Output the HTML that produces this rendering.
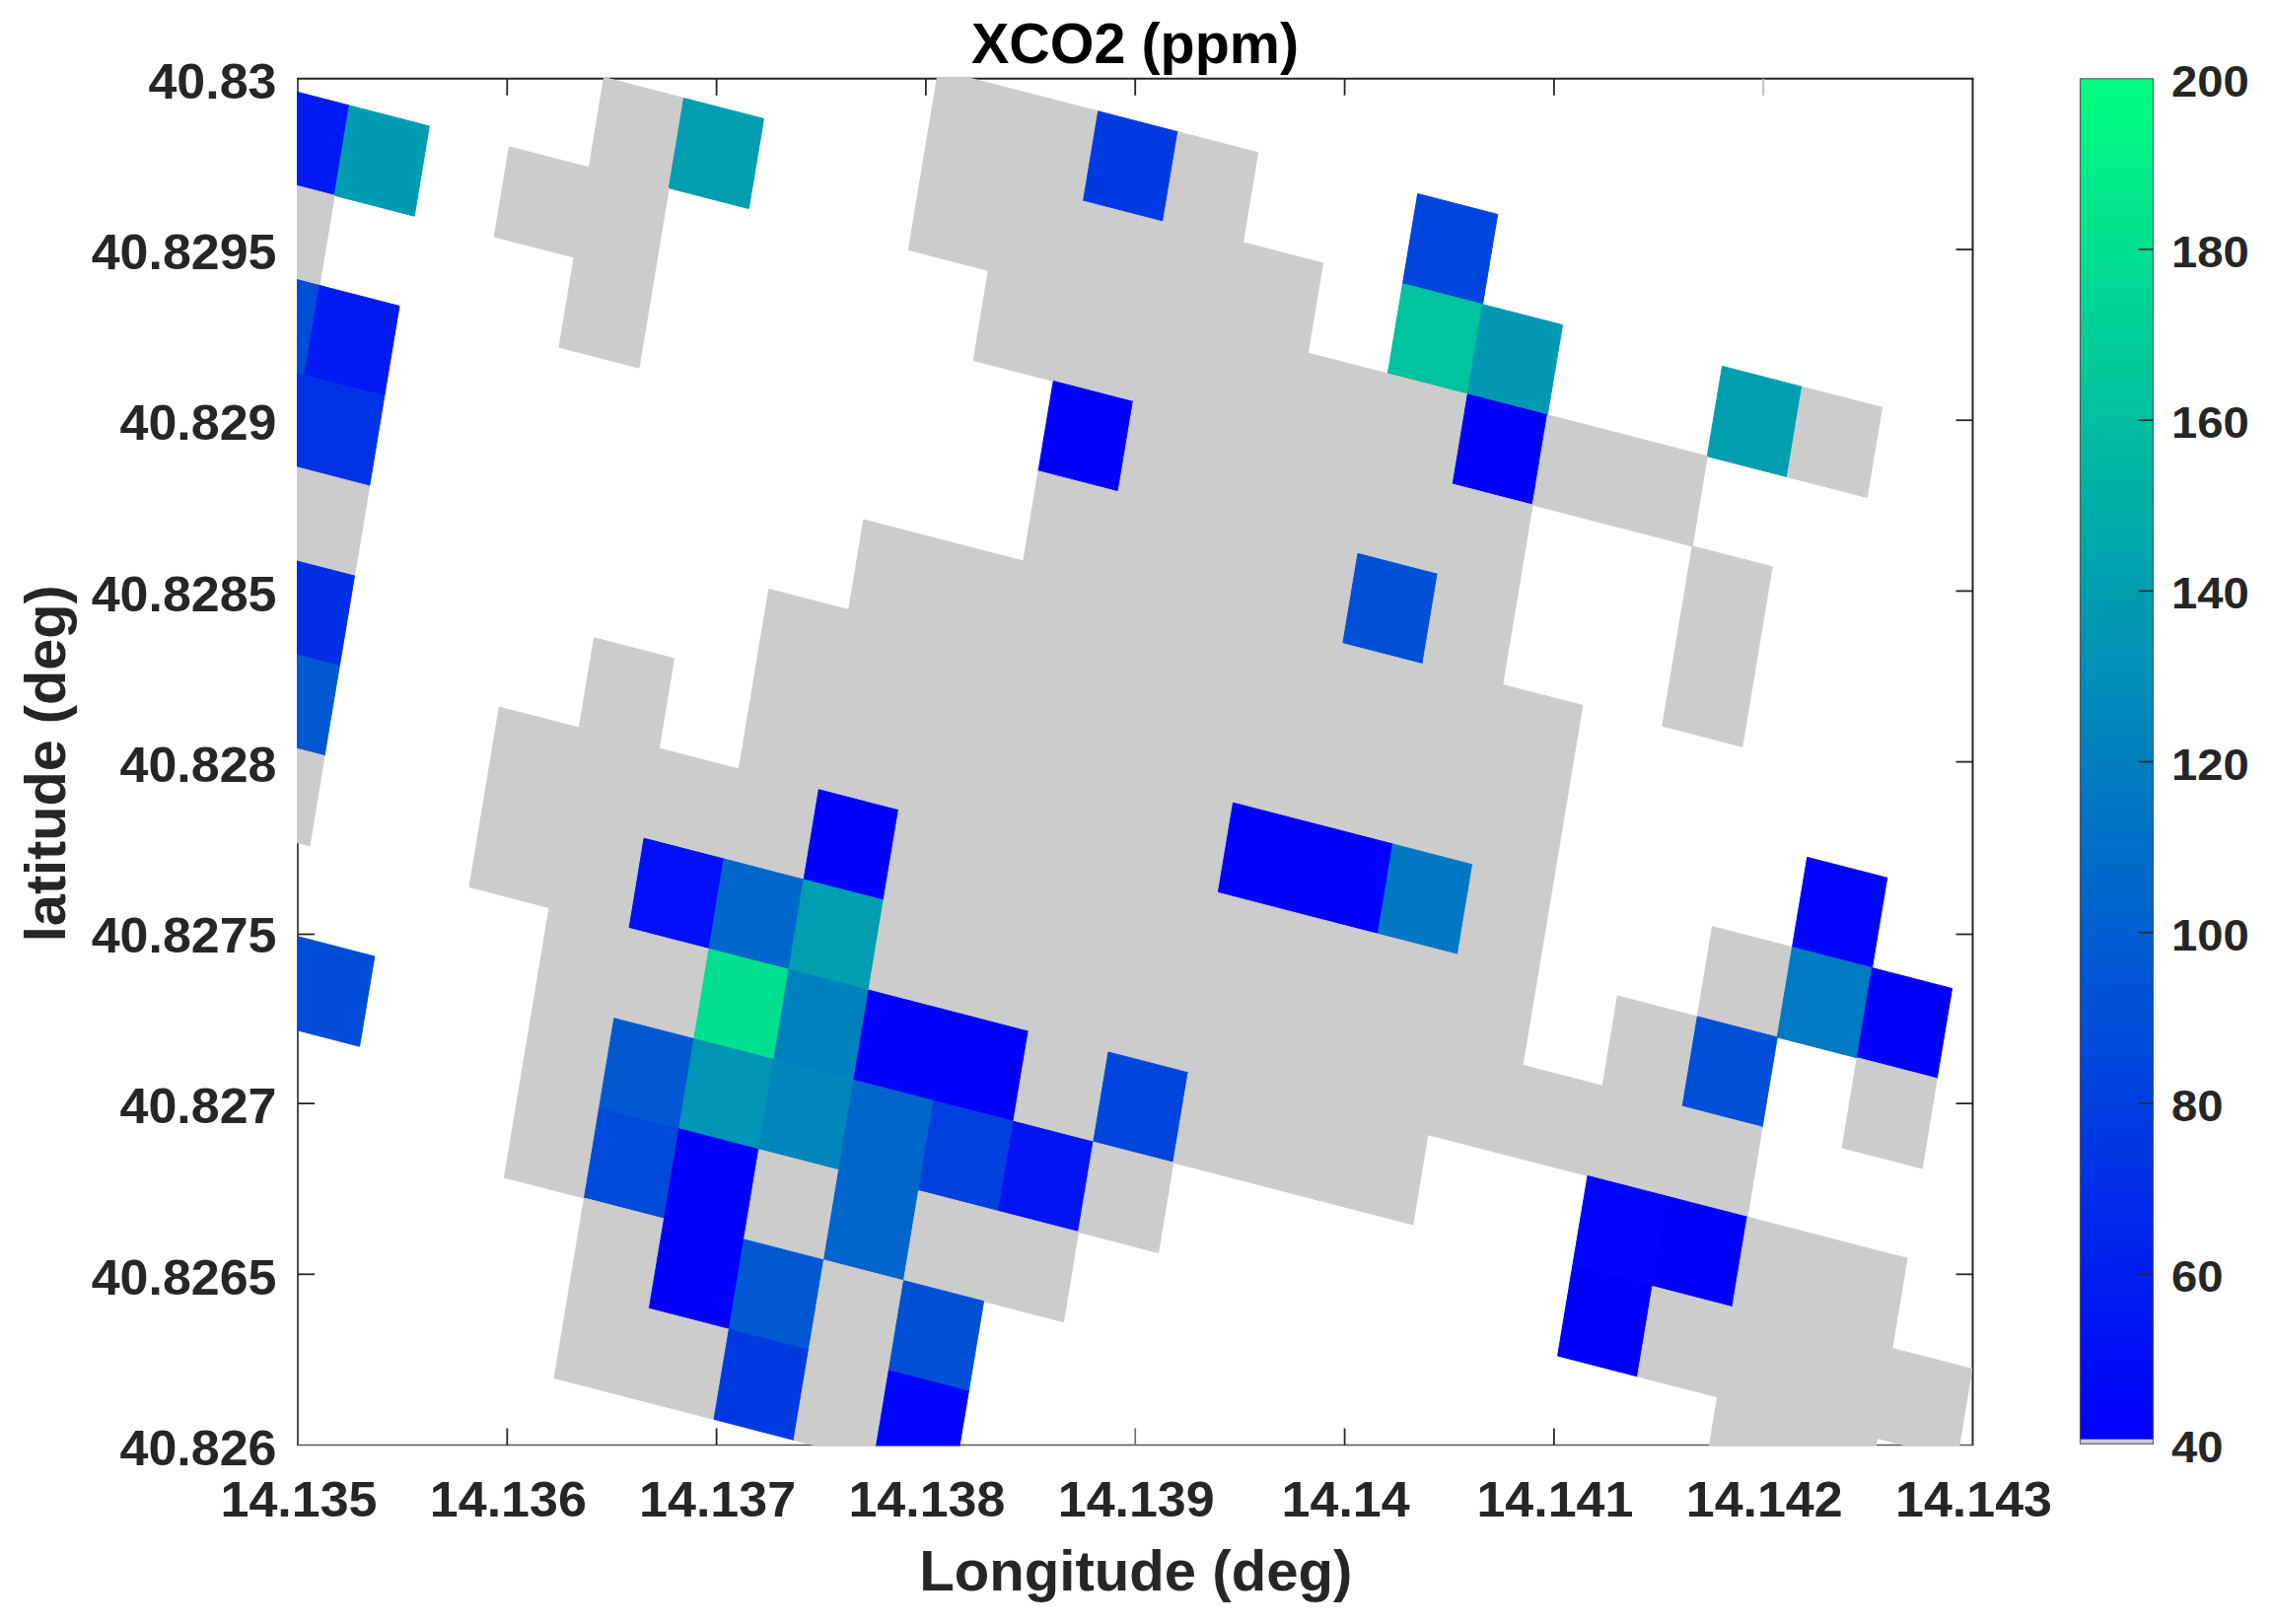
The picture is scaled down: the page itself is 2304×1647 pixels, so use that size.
<!DOCTYPE html>
<html><head><meta charset="utf-8"><title>XCO2 (ppm)</title>
<style>html,body{margin:0;padding:0;background:#fff;overflow:hidden}svg{display:block}text{font-family:"Liberation Sans",sans-serif;font-weight:bold;fill:#262626}</style></head><body>
<svg width="2304" height="1647" viewBox="0 0 2304 1647">
<rect width="2304" height="1647" fill="#fff"/>
<defs><clipPath id="c"><rect x="301" y="78.8" width="1700.5" height="1387.7"/></clipPath>
<linearGradient id="w" x1="0" y1="1" x2="0" y2="0"><stop offset="0" stop-color="#0000ff"/><stop offset="1" stop-color="#00ff80"/></linearGradient></defs>
<g stroke="#262626" stroke-width="1.8" fill="none">
<path d="M301 79.8H2001.5" stroke-width="2"/>
<path d="M2000.5 79.8V1465.5" stroke-width="2"/>
<path d="M301 1465.5H2001.5" stroke="#555" stroke-width="1.7"/>
<path d="M302 79.8V1465.5" stroke-width="1.6"/>
<path d="M514.3 1465.5v-17"/>
<path d="M514.3 79.8v17"/>
<path d="M302.0 253.0h17"/>
<path d="M2000.5 253.0h-17"/>
<path d="M726.6 1465.5v-17"/>
<path d="M726.6 79.8v17"/>
<path d="M302.0 426.2h17"/>
<path d="M2000.5 426.2h-17"/>
<path d="M938.9 1465.5v-17"/>
<path d="M938.9 79.8v17"/>
<path d="M302.0 599.4h17"/>
<path d="M2000.5 599.4h-17"/>
<path d="M1151.2 1465.5v-17" stroke="#777"/>
<path d="M1151.2 79.8v17"/>
<path d="M302.0 772.6h17"/>
<path d="M2000.5 772.6h-17"/>
<path d="M1363.6 1465.5v-17"/>
<path d="M1363.6 79.8v17"/>
<path d="M302.0 947.5h17"/>
<path d="M2000.5 947.5h-17"/>
<path d="M1575.9 1465.5v-17"/>
<path d="M1575.9 79.8v17"/>
<path d="M302.0 1119.1h17"/>
<path d="M2000.5 1119.1h-17"/>
<path d="M1788.2 1465.5v-17"/>
<path d="M1788.2 79.8v17" stroke="#bdbdbd"/>
<path d="M302.0 1292.3h17"/>
<path d="M2000.5 1292.3h-17"/>
</g>
<g clip-path="url(#c)">
<polygon points="951.7,71.0 1032.7,91.9 1017.5,183.1 936.5,162.2" fill="#cccccc" stroke="#cccccc" stroke-width="1"/>
<polygon points="1032.7,91.9 1113.7,112.8 1098.5,204.1 1017.5,183.1" fill="#cccccc" stroke="#cccccc" stroke-width="1"/>
<polygon points="1113.7,112.8 1194.7,133.8 1179.5,225.0 1098.5,204.1" fill="#003be2" stroke="#003be2" stroke-width="1"/>
<polygon points="1194.7,133.8 1275.7,154.7 1260.5,245.9 1179.5,225.0" fill="#cccccc" stroke="#cccccc" stroke-width="1"/>
<polygon points="1437.7,196.5 1518.7,217.4 1503.5,308.7 1422.5,287.7" fill="#0045dd" stroke="#0045dd" stroke-width="1"/>
<polygon points="612.5,78.5 693.5,99.5 678.3,190.7 597.3,169.8" fill="#cccccc" stroke="#cccccc" stroke-width="1"/>
<polygon points="693.5,99.5 774.5,120.4 759.3,211.6 678.3,190.7" fill="#009eb0" stroke="#009eb0" stroke-width="1"/>
<polygon points="936.5,162.2 1017.5,183.1 1002.3,274.4 921.3,253.4" fill="#cccccc" stroke="#cccccc" stroke-width="1"/>
<polygon points="1017.5,183.1 1098.5,204.1 1083.3,295.3 1002.3,274.4" fill="#cccccc" stroke="#cccccc" stroke-width="1"/>
<polygon points="1098.5,204.1 1179.5,225.0 1164.3,316.2 1083.3,295.3" fill="#cccccc" stroke="#cccccc" stroke-width="1"/>
<polygon points="1179.5,225.0 1260.5,245.9 1245.3,337.1 1164.3,316.2" fill="#cccccc" stroke="#cccccc" stroke-width="1"/>
<polygon points="1260.5,245.9 1341.5,266.8 1326.3,358.1 1245.3,337.1" fill="#cccccc" stroke="#cccccc" stroke-width="1"/>
<polygon points="1422.5,287.7 1503.5,308.7 1488.3,399.9 1407.3,379.0" fill="#00c29e" stroke="#00c29e" stroke-width="1"/>
<polygon points="1503.5,308.7 1584.5,329.6 1569.3,420.8 1488.3,399.9" fill="#0099b2" stroke="#0099b2" stroke-width="1"/>
<polygon points="1746.5,371.4 1827.5,392.3 1812.3,483.6 1731.3,462.7" fill="#009eb0" stroke="#009eb0" stroke-width="1"/>
<polygon points="1827.5,392.3 1908.5,413.3 1893.3,504.5 1812.3,483.6" fill="#cccccc" stroke="#cccccc" stroke-width="1"/>
<polygon points="273.3,86.1 354.3,107.0 339.2,198.2 258.2,177.3" fill="#001af2" stroke="#001af2" stroke-width="1"/>
<polygon points="354.3,107.0 435.3,127.9 420.2,219.2 339.2,198.2" fill="#009cb1" stroke="#009cb1" stroke-width="1"/>
<polygon points="516.3,148.9 597.3,169.8 582.2,261.0 501.2,240.1" fill="#cccccc" stroke="#cccccc" stroke-width="1"/>
<polygon points="597.3,169.8 678.3,190.7 663.2,281.9 582.2,261.0" fill="#cccccc" stroke="#cccccc" stroke-width="1"/>
<polygon points="1002.3,274.4 1083.3,295.3 1068.2,386.5 987.2,365.6" fill="#cccccc" stroke="#cccccc" stroke-width="1"/>
<polygon points="1083.3,295.3 1164.3,316.2 1149.2,407.4 1068.2,386.5" fill="#cccccc" stroke="#cccccc" stroke-width="1"/>
<polygon points="1164.3,316.2 1245.3,337.1 1230.2,428.4 1149.2,407.4" fill="#cccccc" stroke="#cccccc" stroke-width="1"/>
<polygon points="1245.3,337.1 1326.3,358.1 1311.2,449.3 1230.2,428.4" fill="#cccccc" stroke="#cccccc" stroke-width="1"/>
<polygon points="1326.3,358.1 1407.3,379.0 1392.2,470.2 1311.2,449.3" fill="#cccccc" stroke="#cccccc" stroke-width="1"/>
<polygon points="1407.3,379.0 1488.3,399.9 1473.2,491.1 1392.2,470.2" fill="#cccccc" stroke="#cccccc" stroke-width="1"/>
<polygon points="1488.3,399.9 1569.3,420.8 1554.2,512.0 1473.2,491.1" fill="#0000ff" stroke="#0000ff" stroke-width="1"/>
<polygon points="1569.3,420.8 1650.3,441.7 1635.2,533.0 1554.2,512.0" fill="#cccccc" stroke="#cccccc" stroke-width="1"/>
<polygon points="1650.3,441.7 1731.3,462.7 1716.2,553.9 1635.2,533.0" fill="#cccccc" stroke="#cccccc" stroke-width="1"/>
<polygon points="258.2,177.3 339.2,198.2 324.0,289.5 243.0,268.6" fill="#cccccc" stroke="#cccccc" stroke-width="1"/>
<polygon points="582.2,261.0 663.2,281.9 648.0,373.1 567.0,352.2" fill="#cccccc" stroke="#cccccc" stroke-width="1"/>
<polygon points="1068.2,386.5 1149.2,407.4 1134.0,498.7 1053.0,477.8" fill="#0000ff" stroke="#0000ff" stroke-width="1"/>
<polygon points="1149.2,407.4 1230.2,428.4 1215.0,519.6 1134.0,498.7" fill="#cccccc" stroke="#cccccc" stroke-width="1"/>
<polygon points="1230.2,428.4 1311.2,449.3 1296.0,540.5 1215.0,519.6" fill="#cccccc" stroke="#cccccc" stroke-width="1"/>
<polygon points="1311.2,449.3 1392.2,470.2 1377.0,561.4 1296.0,540.5" fill="#cccccc" stroke="#cccccc" stroke-width="1"/>
<polygon points="1392.2,470.2 1473.2,491.1 1458.0,582.4 1377.0,561.4" fill="#cccccc" stroke="#cccccc" stroke-width="1"/>
<polygon points="1473.2,491.1 1554.2,512.0 1539.0,603.3 1458.0,582.4" fill="#cccccc" stroke="#cccccc" stroke-width="1"/>
<polygon points="1716.2,553.9 1797.2,574.8 1782.0,666.0 1701.0,645.1" fill="#cccccc" stroke="#cccccc" stroke-width="1"/>
<polygon points="243.0,268.6 324.0,289.5 308.8,380.7 227.8,359.8" fill="#004cd9" stroke="#004cd9" stroke-width="1"/>
<polygon points="324.0,289.5 405.0,310.4 389.8,401.6 308.8,380.7" fill="#001af2" stroke="#001af2" stroke-width="1"/>
<polygon points="1053.0,477.8 1134.0,498.7 1118.8,589.9 1037.8,569.0" fill="#cccccc" stroke="#cccccc" stroke-width="1"/>
<polygon points="1134.0,498.7 1215.0,519.6 1199.8,610.8 1118.8,589.9" fill="#cccccc" stroke="#cccccc" stroke-width="1"/>
<polygon points="1215.0,519.6 1296.0,540.5 1280.8,631.7 1199.8,610.8" fill="#cccccc" stroke="#cccccc" stroke-width="1"/>
<polygon points="1296.0,540.5 1377.0,561.4 1361.8,652.7 1280.8,631.7" fill="#cccccc" stroke="#cccccc" stroke-width="1"/>
<polygon points="1377.0,561.4 1458.0,582.4 1442.8,673.6 1361.8,652.7" fill="#004fd7" stroke="#004fd7" stroke-width="1"/>
<polygon points="1458.0,582.4 1539.0,603.3 1523.8,694.5 1442.8,673.6" fill="#cccccc" stroke="#cccccc" stroke-width="1"/>
<polygon points="1701.0,645.1 1782.0,666.0 1766.8,757.3 1685.8,736.3" fill="#cccccc" stroke="#cccccc" stroke-width="1"/>
<polygon points="227.8,359.8 308.8,380.7 293.7,471.9 212.7,451.0" fill="#0033e6" stroke="#0033e6" stroke-width="1"/>
<polygon points="308.8,380.7 389.8,401.6 374.7,492.9 293.7,471.9" fill="#0033e6" stroke="#0033e6" stroke-width="1"/>
<polygon points="875.8,527.1 956.8,548.1 941.7,639.3 860.7,618.4" fill="#cccccc" stroke="#cccccc" stroke-width="1"/>
<polygon points="956.8,548.1 1037.8,569.0 1022.7,660.2 941.7,639.3" fill="#cccccc" stroke="#cccccc" stroke-width="1"/>
<polygon points="1037.8,569.0 1118.8,589.9 1103.7,681.1 1022.7,660.2" fill="#cccccc" stroke="#cccccc" stroke-width="1"/>
<polygon points="1118.8,589.9 1199.8,610.8 1184.7,702.0 1103.7,681.1" fill="#cccccc" stroke="#cccccc" stroke-width="1"/>
<polygon points="1199.8,610.8 1280.8,631.7 1265.7,723.0 1184.7,702.0" fill="#cccccc" stroke="#cccccc" stroke-width="1"/>
<polygon points="1280.8,631.7 1361.8,652.7 1346.7,743.9 1265.7,723.0" fill="#cccccc" stroke="#cccccc" stroke-width="1"/>
<polygon points="1361.8,652.7 1442.8,673.6 1427.7,764.8 1346.7,743.9" fill="#cccccc" stroke="#cccccc" stroke-width="1"/>
<polygon points="1442.8,673.6 1523.8,694.5 1508.7,785.7 1427.7,764.8" fill="#cccccc" stroke="#cccccc" stroke-width="1"/>
<polygon points="1523.8,694.5 1604.8,715.4 1589.7,806.7 1508.7,785.7" fill="#cccccc" stroke="#cccccc" stroke-width="1"/>
<polygon points="293.7,471.9 374.7,492.9 359.5,584.1 278.5,563.2" fill="#cccccc" stroke="#cccccc" stroke-width="1"/>
<polygon points="779.7,597.5 860.7,618.4 845.5,709.6 764.5,688.7" fill="#cccccc" stroke="#cccccc" stroke-width="1"/>
<polygon points="860.7,618.4 941.7,639.3 926.5,730.5 845.5,709.6" fill="#cccccc" stroke="#cccccc" stroke-width="1"/>
<polygon points="941.7,639.3 1022.7,660.2 1007.5,751.4 926.5,730.5" fill="#cccccc" stroke="#cccccc" stroke-width="1"/>
<polygon points="1022.7,660.2 1103.7,681.1 1088.5,772.4 1007.5,751.4" fill="#cccccc" stroke="#cccccc" stroke-width="1"/>
<polygon points="1103.7,681.1 1184.7,702.0 1169.5,793.3 1088.5,772.4" fill="#cccccc" stroke="#cccccc" stroke-width="1"/>
<polygon points="1184.7,702.0 1265.7,723.0 1250.5,814.2 1169.5,793.3" fill="#cccccc" stroke="#cccccc" stroke-width="1"/>
<polygon points="1265.7,723.0 1346.7,743.9 1331.5,835.1 1250.5,814.2" fill="#cccccc" stroke="#cccccc" stroke-width="1"/>
<polygon points="1346.7,743.9 1427.7,764.8 1412.5,856.0 1331.5,835.1" fill="#cccccc" stroke="#cccccc" stroke-width="1"/>
<polygon points="1427.7,764.8 1508.7,785.7 1493.5,877.0 1412.5,856.0" fill="#cccccc" stroke="#cccccc" stroke-width="1"/>
<polygon points="1508.7,785.7 1589.7,806.7 1574.5,897.9 1493.5,877.0" fill="#cccccc" stroke="#cccccc" stroke-width="1"/>
<polygon points="1832.7,869.4 1913.7,890.3 1898.5,981.6 1817.5,960.6" fill="#0005fc" stroke="#0005fc" stroke-width="1"/>
<polygon points="278.5,563.2 359.5,584.1 344.3,675.3 263.3,654.4" fill="#002ee8" stroke="#002ee8" stroke-width="1"/>
<polygon points="602.5,646.8 683.5,667.8 668.3,759.0 587.3,738.1" fill="#cccccc" stroke="#cccccc" stroke-width="1"/>
<polygon points="764.5,688.7 845.5,709.6 830.3,800.8 749.3,779.9" fill="#cccccc" stroke="#cccccc" stroke-width="1"/>
<polygon points="845.5,709.6 926.5,730.5 911.3,821.8 830.3,800.8" fill="#cccccc" stroke="#cccccc" stroke-width="1"/>
<polygon points="926.5,730.5 1007.5,751.4 992.3,842.7 911.3,821.8" fill="#cccccc" stroke="#cccccc" stroke-width="1"/>
<polygon points="1007.5,751.4 1088.5,772.4 1073.3,863.6 992.3,842.7" fill="#cccccc" stroke="#cccccc" stroke-width="1"/>
<polygon points="1088.5,772.4 1169.5,793.3 1154.3,884.5 1073.3,863.6" fill="#cccccc" stroke="#cccccc" stroke-width="1"/>
<polygon points="1169.5,793.3 1250.5,814.2 1235.3,905.4 1154.3,884.5" fill="#cccccc" stroke="#cccccc" stroke-width="1"/>
<polygon points="1250.5,814.2 1331.5,835.1 1316.3,926.4 1235.3,905.4" fill="#0000ff" stroke="#0000ff" stroke-width="1"/>
<polygon points="1331.5,835.1 1412.5,856.0 1397.3,947.3 1316.3,926.4" fill="#0000ff" stroke="#0000ff" stroke-width="1"/>
<polygon points="1412.5,856.0 1493.5,877.0 1478.3,968.2 1397.3,947.3" fill="#0078c3" stroke="#0078c3" stroke-width="1"/>
<polygon points="1493.5,877.0 1574.5,897.9 1559.3,989.1 1478.3,968.2" fill="#cccccc" stroke="#cccccc" stroke-width="1"/>
<polygon points="1736.5,939.7 1817.5,960.6 1802.3,1051.9 1721.3,1031.0" fill="#cccccc" stroke="#cccccc" stroke-width="1"/>
<polygon points="1817.5,960.6 1898.5,981.6 1883.3,1072.8 1802.3,1051.9" fill="#007ac2" stroke="#007ac2" stroke-width="1"/>
<polygon points="1898.5,981.6 1979.5,1002.5 1964.3,1093.7 1883.3,1072.8" fill="#0000ff" stroke="#0000ff" stroke-width="1"/>
<polygon points="263.3,654.4 344.3,675.3 329.1,766.5 248.1,745.6" fill="#0059d2" stroke="#0059d2" stroke-width="1"/>
<polygon points="506.3,717.1 587.3,738.1 572.1,829.3 491.1,808.4" fill="#cccccc" stroke="#cccccc" stroke-width="1"/>
<polygon points="587.3,738.1 668.3,759.0 653.1,850.2 572.1,829.3" fill="#cccccc" stroke="#cccccc" stroke-width="1"/>
<polygon points="668.3,759.0 749.3,779.9 734.1,871.1 653.1,850.2" fill="#cccccc" stroke="#cccccc" stroke-width="1"/>
<polygon points="749.3,779.9 830.3,800.8 815.1,892.1 734.1,871.1" fill="#cccccc" stroke="#cccccc" stroke-width="1"/>
<polygon points="830.3,800.8 911.3,821.8 896.1,913.0 815.1,892.1" fill="#0000ff" stroke="#0000ff" stroke-width="1"/>
<polygon points="911.3,821.8 992.3,842.7 977.1,933.9 896.1,913.0" fill="#cccccc" stroke="#cccccc" stroke-width="1"/>
<polygon points="992.3,842.7 1073.3,863.6 1058.1,954.8 977.1,933.9" fill="#cccccc" stroke="#cccccc" stroke-width="1"/>
<polygon points="1073.3,863.6 1154.3,884.5 1139.1,975.7 1058.1,954.8" fill="#cccccc" stroke="#cccccc" stroke-width="1"/>
<polygon points="1154.3,884.5 1235.3,905.4 1220.1,996.7 1139.1,975.7" fill="#cccccc" stroke="#cccccc" stroke-width="1"/>
<polygon points="1235.3,905.4 1316.3,926.4 1301.1,1017.6 1220.1,996.7" fill="#cccccc" stroke="#cccccc" stroke-width="1"/>
<polygon points="1316.3,926.4 1397.3,947.3 1382.1,1038.5 1301.1,1017.6" fill="#cccccc" stroke="#cccccc" stroke-width="1"/>
<polygon points="1397.3,947.3 1478.3,968.2 1463.1,1059.4 1382.1,1038.5" fill="#cccccc" stroke="#cccccc" stroke-width="1"/>
<polygon points="1478.3,968.2 1559.3,989.1 1544.1,1080.3 1463.1,1059.4" fill="#cccccc" stroke="#cccccc" stroke-width="1"/>
<polygon points="1640.3,1010.0 1721.3,1031.0 1706.1,1122.2 1625.1,1101.3" fill="#cccccc" stroke="#cccccc" stroke-width="1"/>
<polygon points="1721.3,1031.0 1802.3,1051.9 1787.1,1143.1 1706.1,1122.2" fill="#004fd7" stroke="#004fd7" stroke-width="1"/>
<polygon points="1883.3,1072.8 1964.3,1093.7 1949.2,1184.9 1868.1,1164.0" fill="#cccccc" stroke="#cccccc" stroke-width="1"/>
<polygon points="248.1,745.6 329.1,766.5 314.0,857.8 233.0,836.9" fill="#cccccc" stroke="#cccccc" stroke-width="1"/>
<polygon points="491.1,808.4 572.1,829.3 557.0,920.5 476.0,899.6" fill="#cccccc" stroke="#cccccc" stroke-width="1"/>
<polygon points="572.1,829.3 653.1,850.2 638.0,941.5 557.0,920.5" fill="#cccccc" stroke="#cccccc" stroke-width="1"/>
<polygon points="653.1,850.2 734.1,871.1 719.0,962.4 638.0,941.5" fill="#000ff7" stroke="#000ff7" stroke-width="1"/>
<polygon points="734.1,871.1 815.1,892.1 800.0,983.3 719.0,962.4" fill="#0066cc" stroke="#0066cc" stroke-width="1"/>
<polygon points="815.1,892.1 896.1,913.0 881.0,1004.2 800.0,983.3" fill="#009eb0" stroke="#009eb0" stroke-width="1"/>
<polygon points="896.1,913.0 977.1,933.9 962.0,1025.1 881.0,1004.2" fill="#cccccc" stroke="#cccccc" stroke-width="1"/>
<polygon points="977.1,933.9 1058.1,954.8 1043.0,1046.1 962.0,1025.1" fill="#cccccc" stroke="#cccccc" stroke-width="1"/>
<polygon points="1058.1,954.8 1139.1,975.7 1124.0,1067.0 1043.0,1046.1" fill="#cccccc" stroke="#cccccc" stroke-width="1"/>
<polygon points="1139.1,975.7 1220.1,996.7 1205.0,1087.9 1124.0,1067.0" fill="#cccccc" stroke="#cccccc" stroke-width="1"/>
<polygon points="1220.1,996.7 1301.1,1017.6 1286.0,1108.8 1205.0,1087.9" fill="#cccccc" stroke="#cccccc" stroke-width="1"/>
<polygon points="1301.1,1017.6 1382.1,1038.5 1367.0,1129.7 1286.0,1108.8" fill="#cccccc" stroke="#cccccc" stroke-width="1"/>
<polygon points="1382.1,1038.5 1463.1,1059.4 1448.0,1150.7 1367.0,1129.7" fill="#cccccc" stroke="#cccccc" stroke-width="1"/>
<polygon points="1463.1,1059.4 1544.1,1080.3 1529.0,1171.6 1448.0,1150.7" fill="#cccccc" stroke="#cccccc" stroke-width="1"/>
<polygon points="1544.1,1080.3 1625.1,1101.3 1610.0,1192.5 1529.0,1171.6" fill="#cccccc" stroke="#cccccc" stroke-width="1"/>
<polygon points="1625.1,1101.3 1706.1,1122.2 1691.0,1213.4 1610.0,1192.5" fill="#cccccc" stroke="#cccccc" stroke-width="1"/>
<polygon points="1706.1,1122.2 1787.1,1143.1 1772.0,1234.3 1691.0,1213.4" fill="#cccccc" stroke="#cccccc" stroke-width="1"/>
<polygon points="557.0,920.5 638.0,941.5 622.8,1032.7 541.8,1011.8" fill="#cccccc" stroke="#cccccc" stroke-width="1"/>
<polygon points="638.0,941.5 719.0,962.4 703.8,1053.6 622.8,1032.7" fill="#cccccc" stroke="#cccccc" stroke-width="1"/>
<polygon points="719.0,962.4 800.0,983.3 784.8,1074.5 703.8,1053.6" fill="#00e08f" stroke="#00e08f" stroke-width="1"/>
<polygon points="800.0,983.3 881.0,1004.2 865.8,1095.4 784.8,1074.5" fill="#0080bf" stroke="#0080bf" stroke-width="1"/>
<polygon points="881.0,1004.2 962.0,1025.1 946.8,1116.4 865.8,1095.4" fill="#0000ff" stroke="#0000ff" stroke-width="1"/>
<polygon points="962.0,1025.1 1043.0,1046.1 1027.8,1137.3 946.8,1116.4" fill="#0000ff" stroke="#0000ff" stroke-width="1"/>
<polygon points="1043.0,1046.1 1124.0,1067.0 1108.8,1158.2 1027.8,1137.3" fill="#cccccc" stroke="#cccccc" stroke-width="1"/>
<polygon points="1124.0,1067.0 1205.0,1087.9 1189.8,1179.1 1108.8,1158.2" fill="#0045dd" stroke="#0045dd" stroke-width="1"/>
<polygon points="1205.0,1087.9 1286.0,1108.8 1270.8,1200.0 1189.8,1179.1" fill="#cccccc" stroke="#cccccc" stroke-width="1"/>
<polygon points="1286.0,1108.8 1367.0,1129.7 1351.8,1221.0 1270.8,1200.0" fill="#cccccc" stroke="#cccccc" stroke-width="1"/>
<polygon points="1367.0,1129.7 1448.0,1150.7 1432.8,1241.9 1351.8,1221.0" fill="#cccccc" stroke="#cccccc" stroke-width="1"/>
<polygon points="1610.0,1192.5 1691.0,1213.4 1675.8,1304.6 1594.8,1283.7" fill="#0005fc" stroke="#0005fc" stroke-width="1"/>
<polygon points="1691.0,1213.4 1772.0,1234.3 1756.8,1325.6 1675.8,1304.6" fill="#0000ff" stroke="#0000ff" stroke-width="1"/>
<polygon points="1772.0,1234.3 1853.0,1255.2 1837.8,1346.5 1756.8,1325.6" fill="#cccccc" stroke="#cccccc" stroke-width="1"/>
<polygon points="1853.0,1255.2 1934.0,1276.2 1918.8,1367.4 1837.8,1346.5" fill="#cccccc" stroke="#cccccc" stroke-width="1"/>
<polygon points="298.8,949.0 379.8,969.9 364.6,1061.2 283.6,1040.2" fill="#004cd9" stroke="#004cd9" stroke-width="1"/>
<polygon points="541.8,1011.8 622.8,1032.7 607.6,1123.9 526.6,1103.0" fill="#cccccc" stroke="#cccccc" stroke-width="1"/>
<polygon points="622.8,1032.7 703.8,1053.6 688.6,1144.8 607.6,1123.9" fill="#0059d2" stroke="#0059d2" stroke-width="1"/>
<polygon points="703.8,1053.6 784.8,1074.5 769.6,1165.8 688.6,1144.8" fill="#0094b5" stroke="#0094b5" stroke-width="1"/>
<polygon points="784.8,1074.5 865.8,1095.4 850.6,1186.7 769.6,1165.8" fill="#0085bd" stroke="#0085bd" stroke-width="1"/>
<polygon points="865.8,1095.4 946.8,1116.4 931.6,1207.6 850.6,1186.7" fill="#0066cc" stroke="#0066cc" stroke-width="1"/>
<polygon points="946.8,1116.4 1027.8,1137.3 1012.6,1228.5 931.6,1207.6" fill="#0040df" stroke="#0040df" stroke-width="1"/>
<polygon points="1027.8,1137.3 1108.8,1158.2 1093.6,1249.4 1012.6,1228.5" fill="#0014f5" stroke="#0014f5" stroke-width="1"/>
<polygon points="1108.8,1158.2 1189.8,1179.1 1174.6,1270.4 1093.6,1249.4" fill="#cccccc" stroke="#cccccc" stroke-width="1"/>
<polygon points="1594.8,1283.7 1675.8,1304.6 1660.6,1395.9 1579.6,1375.0" fill="#0000ff" stroke="#0000ff" stroke-width="1"/>
<polygon points="1675.8,1304.6 1756.8,1325.6 1741.6,1416.8 1660.6,1395.9" fill="#cccccc" stroke="#cccccc" stroke-width="1"/>
<polygon points="1756.8,1325.6 1837.8,1346.5 1822.6,1437.7 1741.6,1416.8" fill="#cccccc" stroke="#cccccc" stroke-width="1"/>
<polygon points="1837.8,1346.5 1918.8,1367.4 1903.6,1458.6 1822.6,1437.7" fill="#cccccc" stroke="#cccccc" stroke-width="1"/>
<polygon points="1918.8,1367.4 1999.8,1388.3 1984.6,1479.6 1903.6,1458.6" fill="#cccccc" stroke="#cccccc" stroke-width="1"/>
<polygon points="526.6,1103.0 607.6,1123.9 592.5,1215.1 511.5,1194.2" fill="#cccccc" stroke="#cccccc" stroke-width="1"/>
<polygon points="607.6,1123.9 688.6,1144.8 673.5,1236.1 592.5,1215.1" fill="#004ada" stroke="#004ada" stroke-width="1"/>
<polygon points="688.6,1144.8 769.6,1165.8 754.5,1257.0 673.5,1236.1" fill="#0000ff" stroke="#0000ff" stroke-width="1"/>
<polygon points="769.6,1165.8 850.6,1186.7 835.5,1277.9 754.5,1257.0" fill="#cccccc" stroke="#cccccc" stroke-width="1"/>
<polygon points="850.6,1186.7 931.6,1207.6 916.5,1298.8 835.5,1277.9" fill="#0066cc" stroke="#0066cc" stroke-width="1"/>
<polygon points="931.6,1207.6 1012.6,1228.5 997.5,1319.7 916.5,1298.8" fill="#cccccc" stroke="#cccccc" stroke-width="1"/>
<polygon points="1012.6,1228.5 1093.6,1249.4 1078.5,1340.7 997.5,1319.7" fill="#cccccc" stroke="#cccccc" stroke-width="1"/>
<polygon points="1741.6,1416.8 1822.6,1437.7 1807.5,1528.9 1726.5,1508.0" fill="#cccccc" stroke="#cccccc" stroke-width="1"/>
<polygon points="1822.6,1437.7 1903.6,1458.6 1888.5,1549.9 1807.5,1528.9" fill="#cccccc" stroke="#cccccc" stroke-width="1"/>
<polygon points="592.5,1215.1 673.5,1236.1 658.3,1327.3 577.3,1306.4" fill="#cccccc" stroke="#cccccc" stroke-width="1"/>
<polygon points="673.5,1236.1 754.5,1257.0 739.3,1348.2 658.3,1327.3" fill="#0000ff" stroke="#0000ff" stroke-width="1"/>
<polygon points="754.5,1257.0 835.5,1277.9 820.3,1369.1 739.3,1348.2" fill="#0059d2" stroke="#0059d2" stroke-width="1"/>
<polygon points="835.5,1277.9 916.5,1298.8 901.3,1390.0 820.3,1369.1" fill="#cccccc" stroke="#cccccc" stroke-width="1"/>
<polygon points="916.5,1298.8 997.5,1319.7 982.3,1411.0 901.3,1390.0" fill="#004fd7" stroke="#004fd7" stroke-width="1"/>
<polygon points="577.3,1306.4 658.3,1327.3 643.1,1418.5 562.1,1397.6" fill="#cccccc" stroke="#cccccc" stroke-width="1"/>
<polygon points="658.3,1327.3 739.3,1348.2 724.1,1439.4 643.1,1418.5" fill="#cccccc" stroke="#cccccc" stroke-width="1"/>
<polygon points="739.3,1348.2 820.3,1369.1 805.1,1460.4 724.1,1439.4" fill="#003be2" stroke="#003be2" stroke-width="1"/>
<polygon points="820.3,1369.1 901.3,1390.0 886.1,1481.3 805.1,1460.4" fill="#cccccc" stroke="#cccccc" stroke-width="1"/>
<polygon points="901.3,1390.0 982.3,1411.0 967.1,1502.2 886.1,1481.3" fill="#0005fc" stroke="#0005fc" stroke-width="1"/>
</g>
<rect x="2109.5" y="79.8" width="74" height="1380" fill="url(#w)"/>
<rect x="2109.5" y="1459.8" width="74" height="4.5" fill="#cccccc"/>
<rect x="2109.5" y="79.8" width="74" height="1384.5" fill="none" stroke="#3a3a3a" stroke-opacity="0.75" stroke-width="1.2"/>
<path d="M2183.5 253.0h-15" stroke="#262626" stroke-width="1.5"/>
<path d="M2183.5 426.2h-15" stroke="#262626" stroke-width="1.5"/>
<path d="M2183.5 599.4h-15" stroke="#262626" stroke-width="1.5"/>
<path d="M2183.5 772.6h-15" stroke="#262626" stroke-width="1.5"/>
<path d="M2183.5 945.9h-15" stroke="#262626" stroke-width="1.5"/>
<path d="M2183.5 1119.1h-15" stroke="#262626" stroke-width="1.5"/>
<path d="M2183.5 1292.3h-15" stroke="#262626" stroke-width="1.5"/>
<text transform="translate(303.0,1537.5) scale(1.05,1)" font-size="49.5" text-anchor="middle">14.135</text>
<text transform="translate(515.3,1537.5) scale(1.05,1)" font-size="49.5" text-anchor="middle">14.136</text>
<text transform="translate(727.6,1537.5) scale(1.05,1)" font-size="49.5" text-anchor="middle">14.137</text>
<text transform="translate(939.9,1537.5) scale(1.05,1)" font-size="49.5" text-anchor="middle">14.138</text>
<text transform="translate(1152.2,1537.5) scale(1.05,1)" font-size="49.5" text-anchor="middle">14.139</text>
<text transform="translate(1364.6,1537.5) scale(1.05,1)" font-size="49.5" text-anchor="middle">14.14</text>
<text transform="translate(1576.9,1537.5) scale(1.05,1)" font-size="49.5" text-anchor="middle">14.141</text>
<text transform="translate(1789.2,1537.5) scale(1.05,1)" font-size="49.5" text-anchor="middle">14.142</text>
<text transform="translate(2001.5,1537.5) scale(1.05,1)" font-size="49.5" text-anchor="middle">14.143</text>
<text transform="translate(280.5,100.0) scale(1.05,1)" font-size="49.5" text-anchor="end">40.83</text>
<text transform="translate(280.5,273.2) scale(1.05,1)" font-size="49.5" text-anchor="end">40.8295</text>
<text transform="translate(280.5,446.4) scale(1.05,1)" font-size="49.5" text-anchor="end">40.829</text>
<text transform="translate(280.5,619.6) scale(1.05,1)" font-size="49.5" text-anchor="end">40.8285</text>
<text transform="translate(280.5,792.9) scale(1.05,1)" font-size="49.5" text-anchor="end">40.828</text>
<text transform="translate(280.5,966.1) scale(1.05,1)" font-size="49.5" text-anchor="end">40.8275</text>
<text transform="translate(280.5,1139.3) scale(1.05,1)" font-size="49.5" text-anchor="end">40.827</text>
<text transform="translate(280.5,1312.5) scale(1.05,1)" font-size="49.5" text-anchor="end">40.8265</text>
<text transform="translate(280.5,1485.7) scale(1.05,1)" font-size="49.5" text-anchor="end">40.826</text>
<text transform="translate(2202.0,97.7) scale(1.05,1)" font-size="45" text-anchor="start">200</text>
<text transform="translate(2202.0,270.9) scale(1.05,1)" font-size="45" text-anchor="start">180</text>
<text transform="translate(2202.0,444.1) scale(1.05,1)" font-size="45" text-anchor="start">160</text>
<text transform="translate(2202.0,617.3) scale(1.05,1)" font-size="45" text-anchor="start">140</text>
<text transform="translate(2202.0,790.5) scale(1.05,1)" font-size="45" text-anchor="start">120</text>
<text transform="translate(2202.0,963.8) scale(1.05,1)" font-size="45" text-anchor="start">100</text>
<text transform="translate(2202.0,1137.0) scale(1.05,1)" font-size="45" text-anchor="start">80</text>
<text transform="translate(2202.0,1310.2) scale(1.05,1)" font-size="45" text-anchor="start">60</text>
<text transform="translate(2202.0,1483.4) scale(1.05,1)" font-size="45" text-anchor="start">40</text>
<text transform="translate(1151.0,64.3) scale(1,1)" font-size="57.5" text-anchor="middle" style="fill:#000">XCO2 (ppm)</text>
<text transform="translate(1151.8,1613.0) scale(1.02,1)" font-size="57" text-anchor="middle">Longitude (deg)</text>
<text transform="translate(66.2,774.2) rotate(-90) scale(1.012,1)" font-size="57" text-anchor="middle">latitude (deg)</text>
</svg></body></html>
